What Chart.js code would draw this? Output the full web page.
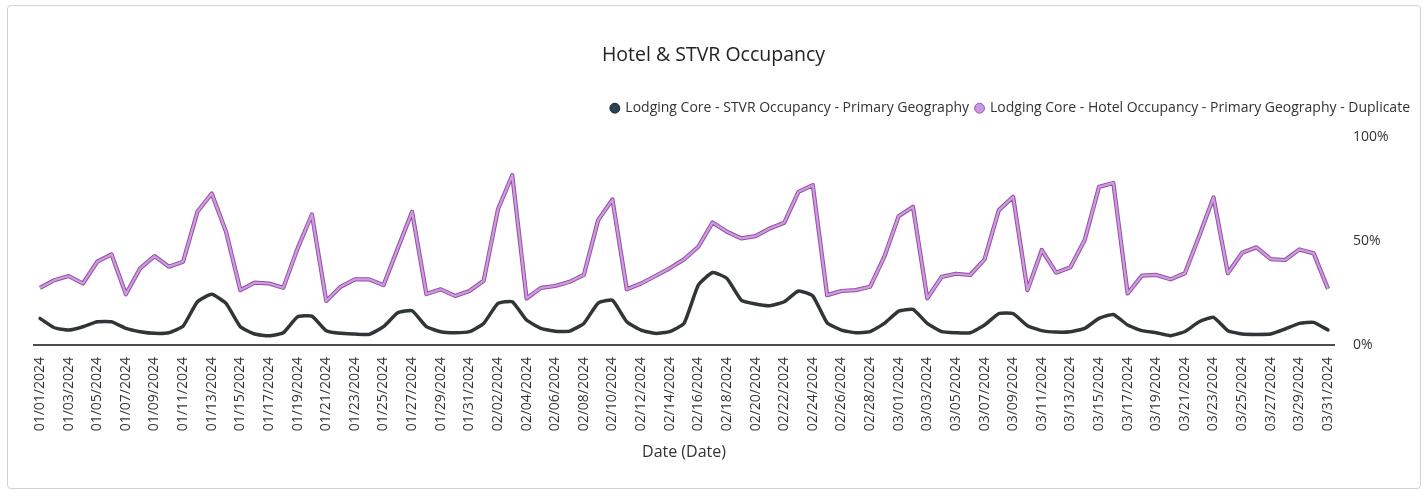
<!DOCTYPE html>
<html>
<head>
<meta charset="utf-8">
<title>Hotel &amp; STVR Occupancy</title>
<script src="https://cdn.jsdelivr.net/npm/chart.js@4.4.1/dist/chart.umd.min.js"></script>
<style>
  html, body { margin: 0; padding: 0; background: #fff; }
  #frame { position: absolute; left: 7px; top: 5px; width: 1412px; height: 482px; border: 1px solid #d2d2d2; border-radius: 4px; }
  #wrap { position: absolute; left: 0; top: 0; width: 1427px; height: 493px; }
</style>
</head>
<body>
<div id="frame"></div>
<div id="wrap"><canvas id="occupancyChart"></canvas></div>
<script>
const dates = [
  "01/01/2024","01/02/2024","01/03/2024","01/04/2024","01/05/2024","01/06/2024","01/07/2024","01/08/2024","01/09/2024","01/10/2024",
  "01/11/2024","01/12/2024","01/13/2024","01/14/2024","01/15/2024","01/16/2024","01/17/2024","01/18/2024","01/19/2024","01/20/2024",
  "01/21/2024","01/22/2024","01/23/2024","01/24/2024","01/25/2024","01/26/2024","01/27/2024","01/28/2024","01/29/2024","01/30/2024",
  "01/31/2024","02/01/2024","02/02/2024","02/03/2024","02/04/2024","02/05/2024","02/06/2024","02/07/2024","02/08/2024","02/09/2024",
  "02/10/2024","02/11/2024","02/12/2024","02/13/2024","02/14/2024","02/15/2024","02/16/2024","02/17/2024","02/18/2024","02/19/2024",
  "02/20/2024","02/21/2024","02/22/2024","02/23/2024","02/24/2024","02/25/2024","02/26/2024","02/27/2024","02/28/2024","02/29/2024",
  "03/01/2024","03/02/2024","03/03/2024","03/04/2024","03/05/2024","03/06/2024","03/07/2024","03/08/2024","03/09/2024","03/10/2024",
  "03/11/2024","03/12/2024","03/13/2024","03/14/2024","03/15/2024","03/16/2024","03/17/2024","03/18/2024","03/19/2024","03/20/2024",
  "03/21/2024","03/22/2024","03/23/2024","03/24/2024","03/25/2024","03/26/2024","03/27/2024","03/28/2024","03/29/2024","03/30/2024",
  "03/31/2024"
];

// occupancy in %
const stvrOccupancy = [
  12.8, 8.3, 7.2, 8.8, 11.2, 11.2, 8.0, 6.4, 5.6, 5.9,
  9.1, 20.8, 24.4, 20.0, 8.8, 5.3, 4.4, 5.9, 13.6, 13.9,
  6.9, 5.6, 5.3, 5.1, 8.8, 15.5, 16.5, 8.8, 6.4, 5.9,
  6.4, 10.4, 20.0, 20.8, 12.0, 8.0, 6.6, 6.7, 10.4, 20.2,
  21.5, 11.2, 7.2, 5.6, 6.4, 10.4, 28.8, 34.9, 32.0, 21.6,
  19.7, 18.9, 20.8, 26.0, 23.6, 10.7, 7.2, 5.9, 6.4, 10.4,
  16.3, 17.1, 10.4, 6.4, 5.9, 5.9, 9.6, 15.1, 15.1, 9.3,
  6.9, 6.2, 6.4, 8.0, 12.8, 14.7, 9.6, 6.9, 5.9, 4.5,
  6.5, 11.2, 13.3, 6.9, 5.3, 5.1, 5.3, 7.7, 10.4, 10.9,
  7.2
];

const hotelOccupancy = [
  27.5, 31.2, 33.2, 29.6, 40.1, 43.6, 24.4, 36.9, 42.8, 37.7,
  40.1, 64.1, 72.9, 54.5, 26.4, 30.0, 29.6, 27.5, 46.5, 62.8,
  21.2, 28.0, 31.6, 31.6, 28.8, 46.5, 64.1, 24.5, 26.8, 23.6,
  26.0, 30.9, 65.3, 81.7, 22.4, 27.5, 28.4, 30.4, 33.7, 60.1,
  70.0, 26.8, 29.6, 33.2, 36.9, 41.2, 47.3, 59.0, 54.5, 51.3,
  52.4, 56.1, 58.8, 73.7, 76.9, 24.0, 26.0, 26.4, 28.0, 42.5,
  62.0, 66.5, 22.4, 32.8, 34.3, 33.7, 41.2, 64.9, 71.3, 26.4,
  45.7, 34.8, 37.4, 50.5, 76.1, 78.0, 24.8, 33.4, 33.7, 31.6,
  34.5, 52.4, 71.0, 34.5, 44.4, 47.0, 41.3, 40.9, 46.0, 44.1,
  27.0
];

const seriesNames = [
  "Lodging Core - STVR Occupancy - Primary Geography",
  "Lodging Core - Hotel Occupancy - Primary Geography - Duplicate"
];
const yTicks = [0, 50, 100];

const markerFills = ["#2c4154", "#c899e2"];
const markerBorders = ["#1c2833", "#9c55c2"];

Chart.defaults.font.family = "'Open Sans', sans-serif";
Chart.defaults.color = "#333";

const baseline = {
  id: "baseline",
  beforeDatasetsDraw(chart) {
    const { ctx, chartArea, scales } = chart;
    const y = scales.y.getPixelForValue(0);
    ctx.save();
    ctx.strokeStyle = "#111";
    ctx.lineWidth = 1.5;
    ctx.beginPath();
    ctx.moveTo(chartArea.left - 7, y);
    ctx.lineTo(chartArea.right + 7, y);
    ctx.stroke();
    ctx.restore();
  }
};

const ctx = document.getElementById("occupancyChart");
new Chart(ctx, {
  type: "line",
  data: {
    labels: dates,
    datasets: [
      {
        label: seriesNames[0],
        data: stvrOccupancy,
        yAxisID: "y",
        borderColor: "#303538",
        backgroundColor: markerFills[0],
        borderWidth: 3.5,
        pointRadius: 0,
        tension: 0.15,
        borderJoinStyle: "round",
        borderCapStyle: "round",
        order: 0
      },
      {
        label: seriesNames[1],
        data: hotelOccupancy,
        yAxisID: "y",
        borderColor: "#cf9ce3",
        backgroundColor: markerFills[1],
        borderWidth: 2.2,
        pointRadius: 0,
        tension: 0,
        borderJoinStyle: "round",
        order: 0
      },
      {
        // darker rim under the hotel line
        label: "rim",
        data: hotelOccupancy,
        yAxisID: "y",
        borderColor: "#93509f",
        borderWidth: 4.2,
        pointRadius: 0,
        tension: 0,
        borderJoinStyle: "round",
        order: 1
      }
    ]
  },
  options: {
    responsive: true,
    maintainAspectRatio: false,
    animation: false,
    layout: { padding: { left: 10, right: 10, top: 0, bottom: 24 } },
    plugins: {
      title: {
        display: true,
        text: "Hotel & STVR Occupancy",
        color: "#222",
        font: { size: 19.5, weight: "normal" },
        padding: { top: 43.5, bottom: 27.3 }
      },
      subtitle: {
        display: true,
        text: "",
        weight: 500,
        font: { size: 10, lineHeight: 1.2 },
        padding: 0
      },
      legend: {
        position: "top",
        align: "end",
        labels: {
          usePointStyle: true,
          boxWidth: 7,
          boxHeight: 7,
          padding: 7,
          color: "#333",
          font: { size: 14 },
          generateLabels: (chart) =>
            Chart.defaults.plugins.legend.labels.generateLabels(chart)
              .filter((item) => item.datasetIndex < 2)
              .map((item) => Object.assign(item, {
                pointStyle: "circle",
                lineWidth: 1,
                fillStyle: markerFills[item.datasetIndex],
                strokeStyle: markerBorders[item.datasetIndex]
              }))
        }
      },
      tooltip: { enabled: false }
    },
    scales: {
      x: {
        grid: { display: false, drawTicks: false },
        border: { display: false },
        ticks: {
          autoSkip: false,
          minRotation: 90,
          maxRotation: 90,
          padding: 12,
          color: "#333",
          font: { size: 14 },
          callback: function (value, index) {
            return index % 2 === 0 ? this.getLabelForValue(value) : "";
          }
        },
        title: {
          display: true,
          text: "Date (Date)",
          color: "#333",
          font: { size: 16 },
          padding: { top: 4, bottom: 7 }
        },
        afterFit: (scale) => { scale.height = 124; }
      },
      y: {
        position: "right",
        min: 0,
        max: 100,
        grid: { display: false, drawTicks: false },
        border: { display: false },
        afterBuildTicks: (scale) => { scale.ticks = yTicks.map((v) => ({ value: v })); },
        ticks: {
          padding: 25,
          color: "#333",
          font: { size: 14 },
          callback: (v) => v + "%"
        },
        afterFit: (scale) => { scale.width = 89; }
      },
      // empty spacer on the left so the title stays centred on the page
      spacer: {
        type: "linear",
        position: "left",
        min: 0,
        max: 1,
        grid: { display: false, drawTicks: false },
        border: { display: false },
        ticks: { display: false },
        afterFit: (scale) => { scale.width = 30; }
      }
    }
  },
  plugins: [baseline]
});
</script>
</body>
</html>
